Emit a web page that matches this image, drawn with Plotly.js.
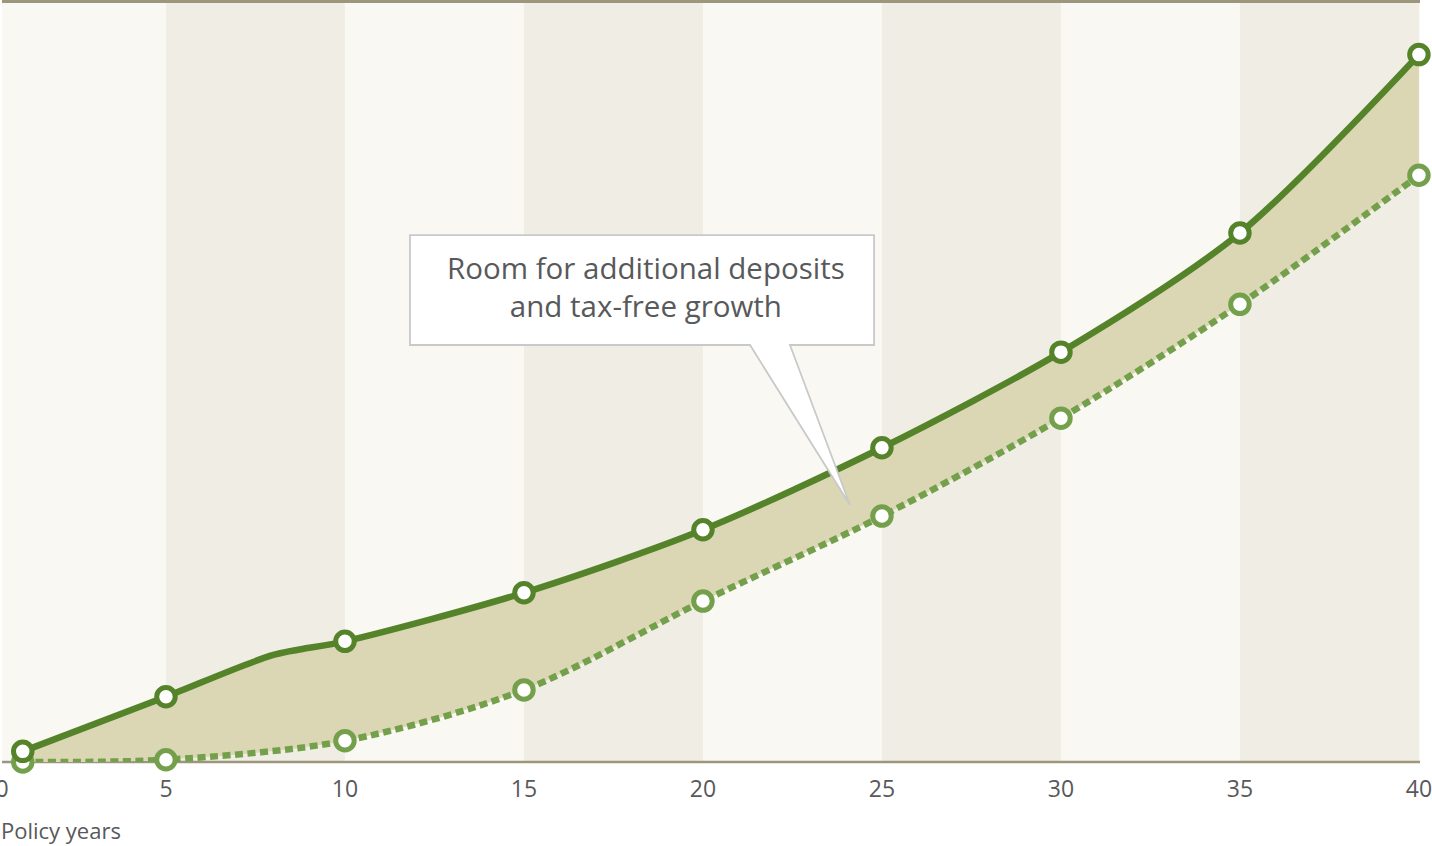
<!DOCTYPE html>
<html>
<head>
<meta charset="utf-8">
<script src="https://cdn.plot.ly/plotly-3.0.1.min.js"></script>
<style>
  html, body { margin: 0; padding: 0; background: #ffffff; }
  #chart { width: 1432px; height: 846px; }
</style>
</head>
<body>
<div id="chart"></div>
<script>
// Policy value with maximum funding (solid) vs. minimum required value (dotted)
const fundedYears  = [1, 5, 8, 10, 15, 20, 25, 30, 35, 40];
const fundedValues = [1.4, 8.6, 14.1, 15.9, 22.3, 30.6, 41.4, 54.0, 69.7, 93.2];

const minYears  = [1, 5, 10, 15, 20, 25, 30, 35, 40];
const minValues = [0.0, 0.3, 2.8, 9.5, 21.2, 32.4, 45.3, 60.3, 77.3];

// Years carrying a point marker
const markerYears = [1, 5, 10, 15, 20, 25, 30, 35, 40];

// Axis ticks
const tickYears  = [0, 5, 10, 15, 20, 25, 30, 35, 40];
const tickLabels = ['0', '5', '10', '15', '20', '25', '30', '35', '40'];

const calloutText = 'Room for additional deposits<br>and tax-free growth';
const axisTitle = 'Policy years';

const X_START = 0.42, X_END = 40.03;
const SOLID = '#55832a';
const DOTTED = '#74a04c';
const FILL = '#dbd7b5';
const BAND_LIGHT = '#f9f8f3';
const BAND_DARK = '#f0eee4';
const RULE = '#9c977c';
const TEXT = '#58595b';
const FONT = 'Open Sans, Noto Sans, sans-serif';

const pick = (xs, ys, keep) => {
  const ox = [], oy = [];
  xs.forEach((x, i) => { if (keep.includes(x)) { ox.push(x); oy.push(ys[i]); } });
  return { x: ox, y: oy };
};
const fundedPts = pick(fundedYears, fundedValues, markerYears);
const minPts = pick(minYears, minValues, markerYears);

const traces = [
  {
    x: minYears, y: minValues, type: 'scatter', mode: 'lines',
    line: { color: DOTTED, width: 6.5, dash: '8px,4.5px', shape: 'spline', smoothing: 0.9 },
    hoverinfo: 'skip', cliponaxis: false
  },
  {
    x: fundedYears, y: fundedValues, type: 'scatter', mode: 'lines',
    fill: 'tonexty', fillcolor: FILL,
    line: { color: SOLID, width: 6.5, shape: 'spline', smoothing: 0.8 },
    hoverinfo: 'skip', cliponaxis: false
  },
  {
    x: minPts.x, y: minPts.y, type: 'scatter', mode: 'markers',
    marker: { size: 18.5, color: '#ffffff', line: { color: DOTTED, width: 5 } },
    hoverinfo: 'skip', cliponaxis: false
  },
  {
    x: fundedPts.x, y: fundedPts.y, type: 'scatter', mode: 'markers',
    marker: { size: 18.5, color: '#ffffff', line: { color: SOLID, width: 5 } },
    hoverinfo: 'skip', cliponaxis: false
  }
];

// Alternating vertical bands every five years
const shapes = [];
for (let i = 0; i < tickYears.length - 1; i++) {
  if (i % 2 === 1) {
    shapes.push({
      type: 'rect', layer: 'below', xref: 'x', yref: 'paper',
      x0: tickYears[i], x1: tickYears[i + 1], y0: 0, y1: 1,
      fillcolor: BAND_DARK, line: { width: 0 }
    });
  }
}
// Top and bottom rules
shapes.push({ type: 'line', layer: 'above', xref: 'paper', yref: 'paper',
  x0: 0, x1: 1, y0: 1.002, y1: 1.002, line: { color: RULE, width: 3 } });
shapes.push({ type: 'line', layer: 'below', xref: 'paper', yref: 'paper',
  x0: 0, x1: 1, y0: 0, y1: 0, line: { color: RULE, width: 2.5 } });

// Callout box with its pointer
const bx0 = 0.2877, bx1 = 0.6150, by0 = 0.5494, by1 = 0.6943;
const tA = 0.5275, tB = 0.5557, tipX = 0.598, tipY = 0.3386;
shapes.push({
  type: 'path', layer: 'above', xref: 'paper', yref: 'paper',
  path: `M ${bx0} ${by1} L ${bx1} ${by1} L ${bx1} ${by0} L ${tB} ${by0} L ${tipX} ${tipY} L ${tA} ${by0} L ${bx0} ${by0} Z`,
  fillcolor: '#ffffff', line: { color: '#c9c9c9', width: 1.8 }
});

const layout = {
  width: 1432, height: 846,
  margin: { l: 2, r: 12, t: 3, b: 84, pad: 0 },
  paper_bgcolor: '#ffffff',
  plot_bgcolor: BAND_LIGHT,
  showlegend: false,
  font: { family: FONT, color: TEXT },
  xaxis: {
    range: [X_START, X_END],
    // the first label sits on the left edge of the axis
    tickvals: tickYears.map(v => Math.max(v, X_START + 0.001)),
    ticktext: tickLabels,
    ticklabeloverflow: 'allow',
    showgrid: false, zeroline: false, showline: false,
    ticks: '', ticklabelstandoff: 11,
    tickfont: { family: FONT, size: 23, color: TEXT },
    fixedrange: true
  },
  yaxis: {
    range: [0, 100],
    visible: false, showgrid: false, zeroline: false, fixedrange: true
  },
  shapes: shapes,
  annotations: [
    {
      xref: 'paper', yref: 'paper', x: (bx0 + bx1) / 2 + 0.003, y: 0.626,
      text: calloutText, showarrow: false, align: 'center',
      xanchor: 'center', yanchor: 'middle',
      font: { family: FONT, size: 29.5, color: TEXT }
    },
    {
      xref: 'paper', yref: 'paper', x: 0, y: -0.0896, xshift: -3,
      text: axisTitle, showarrow: false,
      xanchor: 'left', yanchor: 'middle',
      font: { family: FONT, size: 22, color: TEXT }
    }
  ]
};

Plotly.newPlot('chart', traces, layout, { displayModeBar: false, staticPlot: true });
</script>
</body>
</html>
